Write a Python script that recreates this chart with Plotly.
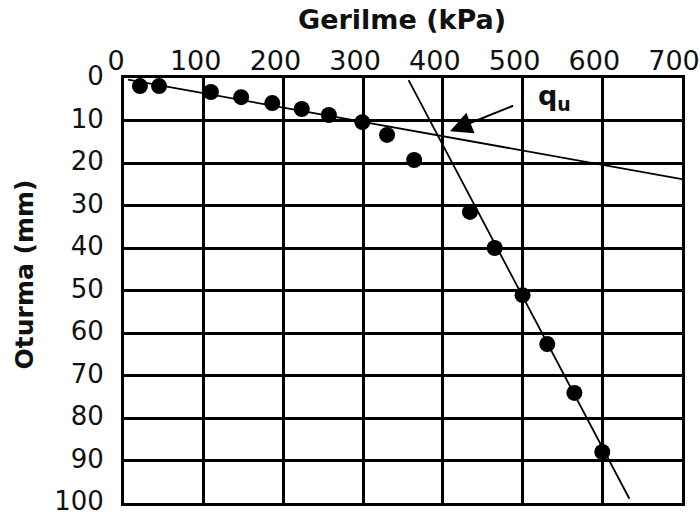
import plotly.graph_objects as go

# Plate load test: applied stress vs settlement
stress_kpa = [20, 44, 109, 147, 186, 223, 257, 299, 330, 364, 434, 465, 500, 531, 565, 600]
settlement_mm = [1.9, 1.9, 3.3, 4.5, 5.9, 7.3, 8.7, 10.4, 13.4, 19.3, 31.5, 40.0, 51.1, 62.6, 74.1, 88.0]

# Two tangent lines used to pick the ultimate bearing stress
initial_tangent_x = [5, 700]
initial_tangent_y = [0.4, 23.8]
final_tangent_x = [357, 634]
final_tangent_y = [0.5, 99.0]

x_ticks = [0, 100, 200, 300, 400, 500, 600, 700]
y_ticks = [0, 10, 20, 30, 40, 50, 60, 70, 80, 90, 100]

# q_u arrow: tip at the tangent intersection, tail towards the label
qu_tip = (409, 12.5)
qu_tail = (490, 6.4)
qu_label = (540, 4.6)

tick_font = dict(family="DejaVu Sans", size=26, color="#111")
title_font = dict(family="DejaVu Sans", size=27, color="#111")

fig = go.Figure()
fig.add_trace(go.Scatter(x=initial_tangent_x, y=initial_tangent_y, mode="lines",
                         line=dict(color="black", width=1.8), showlegend=False))
fig.add_trace(go.Scatter(x=final_tangent_x, y=final_tangent_y, mode="lines",
                         line=dict(color="black", width=1.8), showlegend=False))
fig.add_trace(go.Scatter(x=stress_kpa, y=settlement_mm, mode="markers",
                         marker=dict(color="black", size=16, line=dict(width=0)),
                         showlegend=False))

fig.add_annotation(x=qu_tip[0], y=qu_tip[1], ax=qu_tail[0], ay=qu_tail[1],
                   xref="x", yref="y", axref="x", ayref="y",
                   text="", showarrow=True, arrowhead=2, arrowsize=2.2,
                   arrowwidth=2, arrowcolor="black")
fig.add_annotation(x=qu_label[0], y=qu_label[1], xref="x", yref="y",
                   text="<b>q<sub>u</sub></b>", showarrow=False,
                   xanchor="center", yanchor="middle",
                   font=dict(family="DejaVu Sans", size=27, color="#111"))

# Axis titles as annotations so they sit exactly above / left of the tick labels
fig.add_annotation(x=0.498, y=1.137, xref="paper", yref="paper",
                   text="<b>Gerilme (kPa)</b>", showarrow=False,
                   xanchor="center", yanchor="middle", font=title_font)
fig.add_annotation(x=-0.178, y=0.537, xref="paper", yref="paper",
                   text="<b>Oturma (mm)</b>", textangle=-90, showarrow=False,
                   xanchor="center", yanchor="middle",
                   font=dict(family="DejaVu Sans", size=25, color="#111"))

fig.update_xaxes(side="top", range=[0, 700], tickvals=x_ticks,
                 ticktext=[str(v) for v in x_ticks],
                 showgrid=True, gridcolor="black", gridwidth=3,
                 showline=True, linecolor="black", linewidth=3, mirror=True,
                 ticks="", tickfont=dict(family="DejaVu Sans", size=27, color="#111"),
                 ticklabelshift=-8,
                 ticklabelstandoff=-6, zeroline=False, automargin=False,
                 ticklabeloverflow="allow")
fig.update_yaxes(range=[100, 0], tickvals=y_ticks,
                 ticktext=[str(v) for v in y_ticks],
                 showgrid=True, gridcolor="black", gridwidth=3,
                 showline=True, linecolor="black", linewidth=3, mirror=True,
                 ticks="", tickfont=tick_font, ticklabelstandoff=12, ticklabelshift=2,
                 zeroline=False, automargin=False, ticklabeloverflow="allow")

fig.update_layout(width=700, height=516, margin=dict(l=124, r=18, t=78, b=13),
                  plot_bgcolor="white", paper_bgcolor="white")

fig.write_html("out.html")
